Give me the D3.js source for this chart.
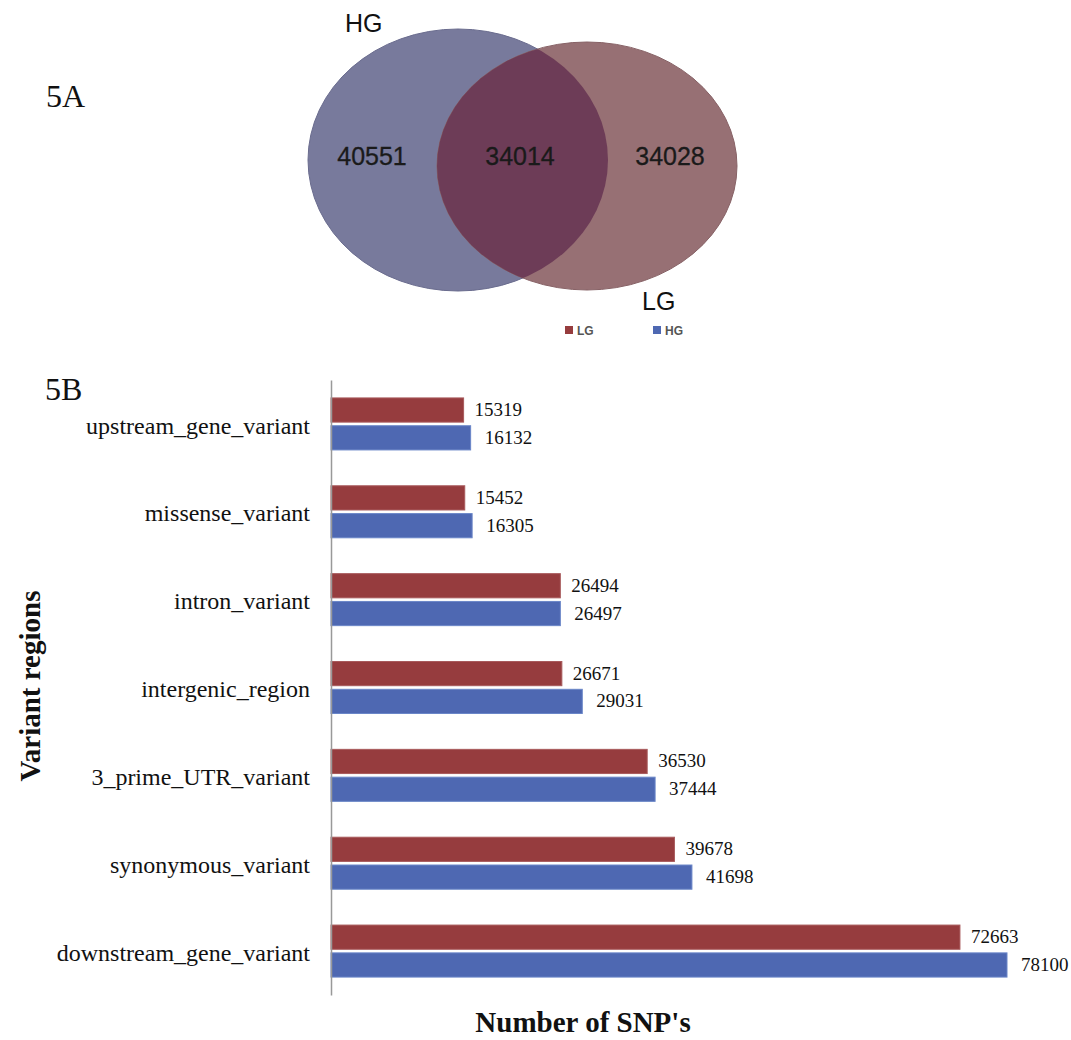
<!DOCTYPE html>
<html>
<head>
<meta charset="utf-8">
<script src="https://cdn.jsdelivr.net/npm/d3@7/dist/d3.min.js"></script>
<style>
  html, body { margin: 0; padding: 0; background: #fff; }
  svg { display: block; }
</style>
</head>
<body>
<svg id="fig" width="1071" height="1040"></svg>
<script>
// Venn counts: HG only, shared, LG only
const vennSets = ["HG", "LG"];
const vennCounts = [40551, 34014, 34028];

// Variant region counts per group
const categories = [
  "upstream_gene_variant",
  "missense_variant",
  "intron_variant",
  "intergenic_region",
  "3_prime_UTR_variant",
  "synonymous_variant",
  "downstream_gene_variant"
];
const seriesNames = ["LG", "HG"];
const lgValues = [15319, 15452, 26494, 26671, 36530, 39678, 72663];
const hgValues = [16132, 16305, 26497, 29031, 37444, 41698, 78100];

const svg = d3.select("#fig");
const serif = "'Liberation Serif', 'Times New Roman', serif";
const sans = "'Liberation Sans', Arial, sans-serif";

// ---------- Panel A: Venn diagram ----------
svg.append("text").attr("x", 46).attr("y", 107)
  .attr("font-family", serif).attr("font-size", 32).attr("fill", "#111")
  .text("5A");

const ellipses = [
  { cx: 458, cy: 160, rx: 150, ry: 131, fill: "#787a9c", stroke: "#6a6c8e" },
  { cx: 587, cy: 166, rx: 150, ry: 124, fill: "#977074", stroke: "#876266" }
];
const defs = svg.append("defs");
defs.append("clipPath").attr("id", "clipHG")
  .append("ellipse")
  .attr("cx", ellipses[0].cx).attr("cy", ellipses[0].cy)
  .attr("rx", ellipses[0].rx).attr("ry", ellipses[0].ry);

const venn = svg.append("g");
venn.selectAll("ellipse.set").data(ellipses).join("ellipse")
  .attr("class", "set")
  .attr("cx", d => d.cx).attr("cy", d => d.cy)
  .attr("rx", d => d.rx).attr("ry", d => d.ry)
  .attr("fill", d => d.fill).attr("stroke", d => d.stroke).attr("stroke-width", 1);
// overlap region
venn.append("ellipse")
  .attr("clip-path", "url(#clipHG)")
  .attr("cx", ellipses[1].cx).attr("cy", ellipses[1].cy)
  .attr("rx", ellipses[1].rx).attr("ry", ellipses[1].ry)
  .attr("fill", "#6d3c57");

const countX = [372, 520, 670];
venn.selectAll("text.count").data(vennCounts).join("text")
  .attr("class", "count")
  .attr("x", (d, i) => countX[i]).attr("y", 165)
  .attr("text-anchor", "middle")
  .attr("font-family", sans).attr("font-size", 25).attr("fill", "#1a1a1a")
  .attr("stroke", "#1a1a1a").attr("stroke-width", 0.3)
  .text(d => d);

venn.append("text").attr("x", 345).attr("y", 32)
  .attr("font-family", sans).attr("font-size", 25).attr("fill", "#111")
  .text(vennSets[0]);
venn.append("text").attr("x", 642).attr("y", 310)
  .attr("font-family", sans).attr("font-size", 25).attr("fill", "#111")
  .text(vennSets[1]);

// ---------- Legend ----------
const color = d3.scaleOrdinal().domain(seriesNames).range(["#963c3e", "#4e68b2"]);
const legend = svg.append("g");
const legendX = [565, 653];
seriesNames.forEach((name, i) => {
  legend.append("rect").attr("x", legendX[i]).attr("y", 326)
    .attr("width", 8).attr("height", 8).attr("fill", color(name));
  legend.append("text").attr("x", legendX[i] + 12).attr("y", 334.5)
    .attr("font-family", sans).attr("font-size", 12).attr("font-weight", "bold")
    .attr("fill", "#555").text(name);
});

// ---------- Panel B: grouped horizontal bars ----------
svg.append("text").attr("x", 45).attr("y", 400)
  .attr("font-family", serif).attr("font-size", 32).attr("fill", "#111")
  .text("5B");

const x = d3.scaleLinear().domain([0, 80000]).range([331, 331 + 80000 * 676 / 78100]);
const y = d3.scaleBand().domain(categories).range([380, 995]).paddingInner(0).paddingOuter(0);
const yInner = d3.scaleBand().domain(seriesNames).range([0, 52]).paddingInner(0.13);

const rows = categories.map((c, i) => ({ cat: c, values: [
  { key: "LG", value: lgValues[i] },
  { key: "HG", value: hgValues[i] }
]}));

const groups = svg.append("g").selectAll("g.row").data(rows).join("g")
  .attr("class", "row")
  .attr("transform", d => `translate(0,${y(d.cat) + y.bandwidth() / 2 - 26})`);

groups.selectAll("rect").data(d => d.values).join("rect")
  .attr("x", x(0))
  .attr("y", d => yInner(d.key))
  .attr("width", d => x(d.value) - x(0))
  .attr("height", yInner.bandwidth())
  .attr("fill", d => color(d.key))
  .attr("stroke", d => d.key === "LG" ? "#a85a5c" : "#6a86c8")
  .attr("stroke-width", 1);

groups.selectAll("text.val").data(d => d.values).join("text")
  .attr("class", "val")
  .attr("x", d => x(d.value) + (d.key === "LG" ? 11 : 14))
  .attr("y", d => yInner(d.key) + yInner.bandwidth() / 2 + 6)
  .attr("font-family", serif).attr("font-size", 19).attr("fill", "#111")
  .text(d => d.value);

// category axis (line only, labels to the left)
const yAxis = d3.axisLeft(y).tickSize(0).tickPadding(21);
const axisG = svg.append("g").attr("transform", `translate(${x(0)},0)`).call(yAxis);
axisG.select(".domain").attr("stroke", "#999").attr("stroke-width", 1.5);
axisG.selectAll(".tick text")
  .attr("font-family", serif).attr("font-size", 24).attr("fill", "#111")
  .attr("dy", "0.4em");

// axis titles
svg.append("text")
  .attr("transform", "translate(40,686) rotate(-90)")
  .attr("text-anchor", "middle")
  .attr("font-family", serif).attr("font-size", 29).attr("font-weight", "bold").attr("fill", "#111")
  .text("Variant regions");
svg.append("text")
  .attr("x", 583).attr("y", 1032)
  .attr("text-anchor", "middle")
  .attr("font-family", serif).attr("font-size", 29).attr("font-weight", "bold").attr("fill", "#111")
  .text("Number of SNP's");
</script>
</body>
</html>
